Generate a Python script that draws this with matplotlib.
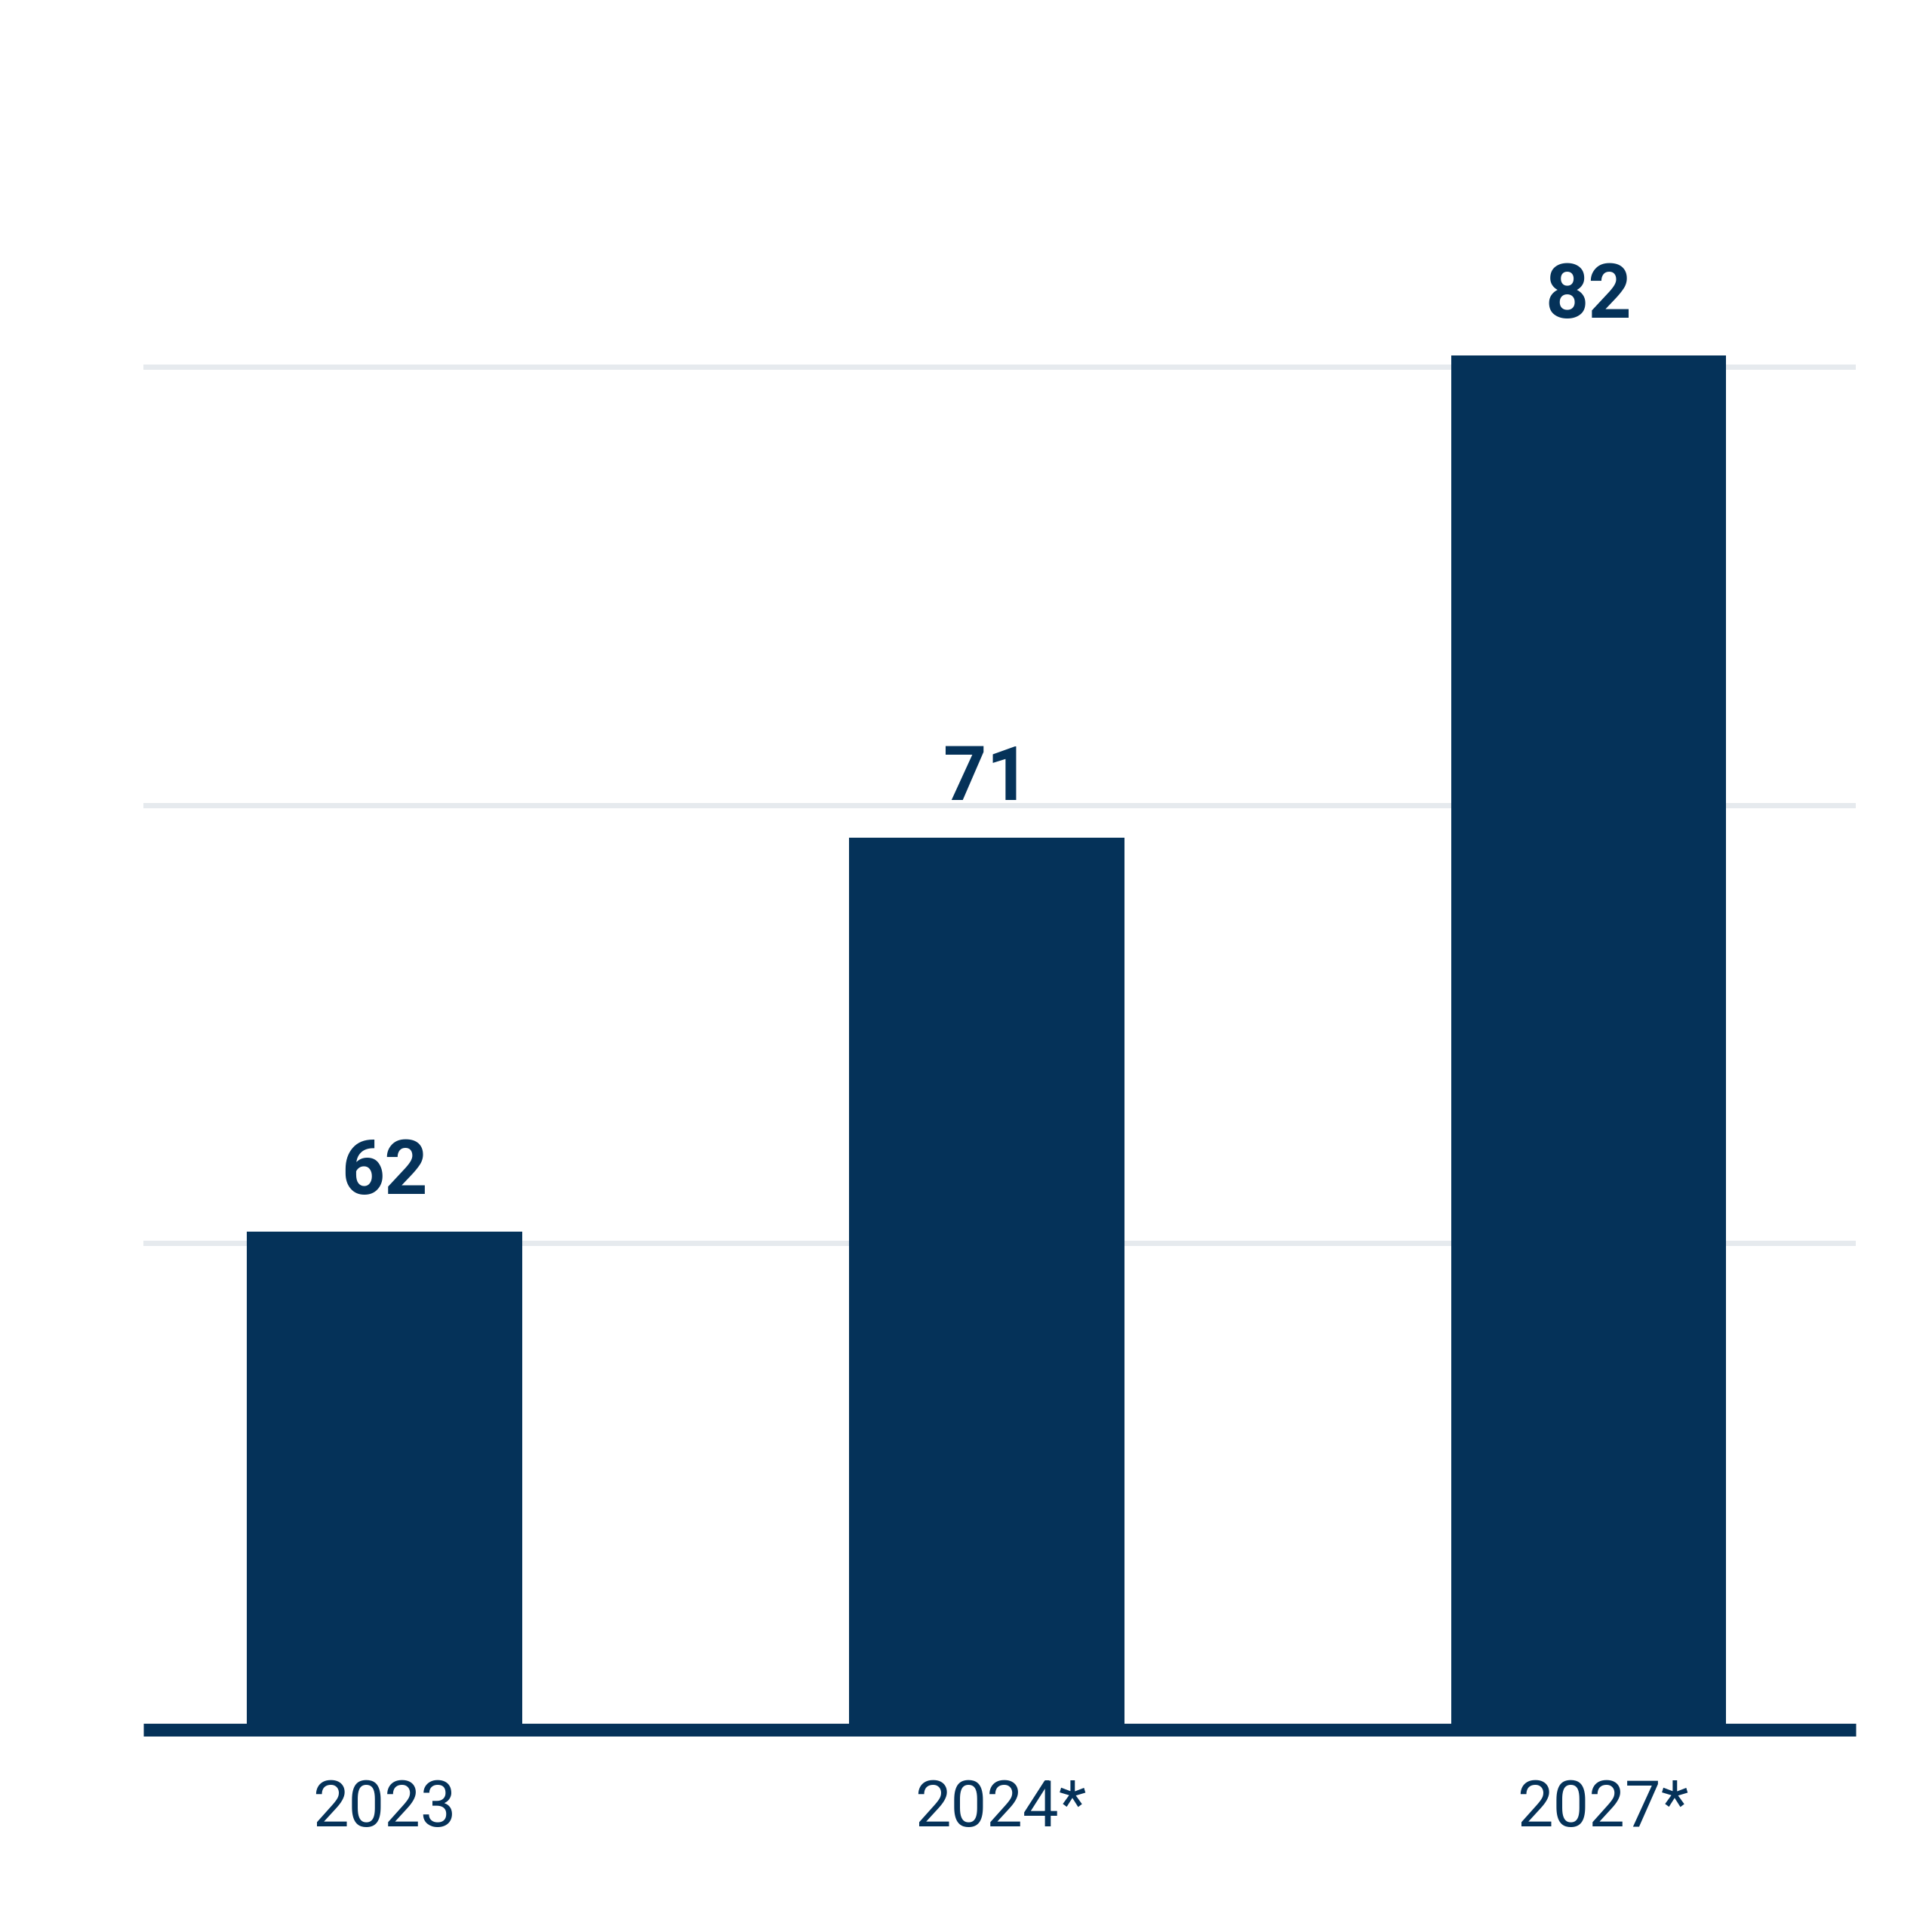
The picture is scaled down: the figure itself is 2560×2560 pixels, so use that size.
import matplotlib.pyplot as plt

# data
years = ["2023", "2024", "2027"]
marks = ["", "*", "*"]
values = [62, 71, 82]

navy = "#053259"
grid_color = "#e6eaee"
plt.rcParams['font.family'] = ['Roboto', 'DejaVu Sans']

fig = plt.figure(figsize=(25.6, 25.6), dpi=100)

# axes box in pixels (figure is 2560 x 2560)
left_px, right_px, base_px, top_px = 190, 2459, 2292, 300
ax = fig.add_axes([left_px / 2560, 1 - base_px / 2560,
                   (right_px - left_px) / 2560, (base_px - top_px) / 2560])

# y scale: axis does not start at zero
px_per_unit = 58.05
y_min = 50.63
ax.set_ylim(y_min, y_min + (base_px - top_px) / px_per_unit)
ax.set_xlim(-0.4005, 2.4434)

x = list(range(len(values)))
ax.bar(x, values, width=0.4568, color=navy, zorder=2)

# light horizontal gridlines
ax.set_yticks([61.74, 71.74, 81.74])
ax.yaxis.grid(True, color=grid_color, linewidth=5)
ax.set_axisbelow(True)
ax.tick_params(left=False, labelleft=False, bottom=False, labelbottom=False)
for s in ax.spines.values():
    s.set_visible(False)

# thick baseline
ax.axhline(y_min, color=navy, linewidth=12.2, zorder=3, clip_on=False,
           solid_capstyle='butt')

# value labels above bars
for i, v in zip(x, values):
    ax.annotate(str(v), xy=(i, v), xytext=(0, 36), textcoords='offset points',
                ha='center', va='baseline', fontsize=72, fontweight='bold',
                color=navy)

# year labels, asterisk hangs to the right of the year
for i, yr, m in zip(x, years, marks):
    t = ax.annotate(yr, xy=(i, y_min), xytext=(0, -91.9),
                    textcoords='offset points', ha='center', va='baseline',
                    fontsize=61, color=navy, annotation_clip=False)
    if m:
        ax.annotate(m, xy=(1, 0), xycoords=t, ha='left', va='bottom',
                    fontsize=61, color=navy)

fig.savefig('out.png', dpi=100)
